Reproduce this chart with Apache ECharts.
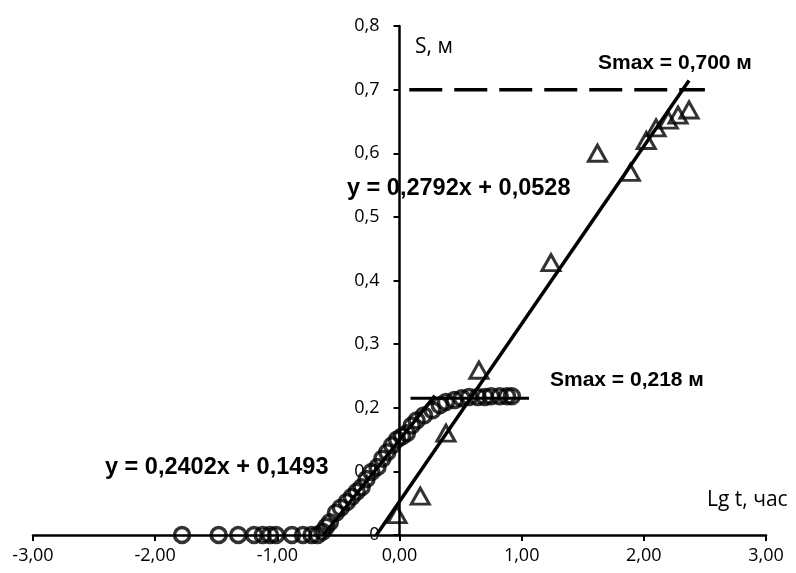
<!DOCTYPE html>
<html>
<head>
<meta charset="utf-8">
<script src="https://cdn.jsdelivr.net/npm/echarts@6/dist/echarts.min.js"></script>
<style>
  html, body { margin: 0; padding: 0; background: #fff; }
  #chart { width: 796px; height: 573px; }
</style>
</head>
<body>
<div id="chart"></div>
<script>
// circles: first test (lg t, S)
const circleX = [-1.78, -1.48, -1.32, -1.19, -1.12, -1.06, -1.01, -0.88, -0.79, -0.72, -0.67,
  -0.63, -0.60, -0.57, -0.52, -0.48, -0.43, -0.39, -0.35, -0.31, -0.27, -0.23, -0.18,
  -0.14, -0.10, -0.06, -0.02, 0.02, 0.06, 0.10, 0.14, 0.20, 0.27, 0.33, 0.38, 0.45,
  0.51, 0.57, 0.64, 0.70, 0.75, 0.82, 0.88, 0.92];
const circleY = [0, 0, 0, 0, 0, 0, 0, 0, 0, 0, 0,
  0.005, 0.013, 0.020, 0.035, 0.043, 0.052, 0.060, 0.068, 0.075, 0.088, 0.099, 0.107,
  0.120, 0.130, 0.141, 0.150, 0.155, 0.160, 0.172, 0.180, 0.188, 0.196, 0.204, 0.209, 0.212,
  0.215, 0.217, 0.217, 0.217, 0.218, 0.218, 0.218, 0.218];

// triangles: second test
const triX = [-0.02, 0.17, 0.38, 0.65, 1.24, 1.62, 1.89, 2.02, 2.10, 2.20, 2.28, 2.37];
const triY = [0.032, 0.061, 0.160, 0.259, 0.428, 0.600, 0.570, 0.620, 0.640, 0.652, 0.660, 0.668];

// linear trends y = k*x + b and their x ranges
const trendCircle = { k: 0.2402, b: 0.1493, from: -0.62, to: 0.29 };
const trendTri = { k: 0.2792, b: 0.0528, from: -0.19, to: 2.37 };

// Smax levels
const smaxHigh = { value: 0.700, from: 0.08, to: 2.50 };
const smaxLow = { value: 0.215, from: 0.09, to: 1.06 };

const xTicks = { min: -3, max: 3, step: 1 };
const yTicks = { min: 0, max: 0.8, step: 0.1 };

function pairs(xs, ys) {
  return xs.map(function (x, i) { return [x, ys[i]]; });
}
function trend(t) {
  return [[t.from, t.k * t.from + t.b], [t.to, t.k * t.to + t.b]];
}
function level(l) {
  return [[l.from, l.value], [l.to, l.value]];
}

const gridLeft = 33, gridRight = 30;
const plotW = 796 - gridLeft - gridRight;
// y axis crosses at x = 0
const yAxisShift = plotW * (0 - xTicks.min) / (xTicks.max - xTicks.min);

const labelFont = 'Open Sans';
const eqFont = 'bold 23.5px "Liberation Sans", Arial, sans-serif';
const smaxFont = 'bold 21px "Liberation Sans", Arial, sans-serif';
const nameFont = '21px "Open Sans", sans-serif';

const option = {
  animation: false,
  backgroundColor: '#fff',
  grid: { left: gridLeft, right: gridRight, top: 26, bottom: 38, containLabel: false, outerBoundsMode: 'none' },
  xAxis: {
    type: 'value',
    min: xTicks.min,
    max: xTicks.max,
    interval: xTicks.step,
    splitLine: { show: false },
    axisLine: { onZero: true, lineStyle: { color: '#000', width: 2.5 } },
    axisTick: { length: 6, lineStyle: { color: '#000', width: 2 } },
    axisLabel: {
      color: '#000',
      fontFamily: labelFont,
      fontSize: 18,
      margin: 12,
      formatter: function (v) { return v.toFixed(2).replace('.', ','); }
    }
  },
  yAxis: {
    type: 'value',
    position: 'left',
    offset: -yAxisShift,
    min: yTicks.min,
    max: yTicks.max,
    interval: yTicks.step,
    splitLine: { show: false },
    axisLine: { onZero: false, lineStyle: { color: '#000', width: 2.5 } },
    axisTick: { length: 6, lineStyle: { color: '#000', width: 2 } },
    axisLabel: {
      color: '#000',
      fontFamily: labelFont,
      fontSize: 18,
      margin: 20,
      formatter: function (v) { return v === 0 ? '0' : v.toFixed(1).replace('.', ','); }
    }
  },
  series: [
    {
      type: 'scatter',
      symbol: 'circle',
      symbolSize: 15,
      itemStyle: { color: 'rgba(255,255,255,0)', borderColor: '#000', borderWidth: 3.5 },
      data: pairs(circleX, circleY),
      z: 3
    },
    {
      type: 'line',
      data: trend(trendCircle),
      showSymbol: false,
      lineStyle: { color: '#000', width: 3.5 },
      z: 2
    },
    {
      type: 'scatter',
      symbol: 'triangle',
      symbolSize: [18, 16],
      itemStyle: { color: 'rgba(255,255,255,0)', borderColor: '#000', borderWidth: 3 },
      data: pairs(triX, triY),
      z: 3
    },
    {
      type: 'line',
      data: trend(trendTri),
      showSymbol: false,
      lineStyle: { color: '#000', width: 3.5 },
      z: 2
    },
    {
      type: 'line',
      data: level(smaxHigh),
      showSymbol: false,
      lineStyle: { color: '#000', width: 3.5, type: [33, 12] },
      z: 2
    },
    {
      type: 'line',
      data: level(smaxLow),
      showSymbol: false,
      lineStyle: { color: '#000', width: 3 },
      z: 2
    }
  ],
  graphic: [
    { type: 'text', x: 415, y: 47, z: 10,
      style: { text: 'S, м', font: nameFont, fill: '#000', verticalAlign: 'middle' } },
    { type: 'text', x: 707, y: 500, z: 10,
      style: { text: 'Lg t, час', font: nameFont, fill: '#000', verticalAlign: 'middle' } },
    { type: 'text', x: 598, y: 63, z: 10,
      style: { text: 'Smax = 0,700 м', font: smaxFont, fill: '#000', verticalAlign: 'middle' } },
    { type: 'text', x: 550, y: 380, z: 10,
      style: { text: 'Smax = 0,218 м', font: smaxFont, fill: '#000', verticalAlign: 'middle' } },
    { type: 'text', x: 347, y: 189, z: -1,
      style: { text: 'y = 0,2792x + 0,0528', font: eqFont, fill: '#000', verticalAlign: 'middle' } },
    { type: 'text', x: 105, y: 468, z: 10,
      style: { text: 'y = 0,2402x + 0,1493', font: eqFont, fill: '#000', verticalAlign: 'middle' } }
  ]
};

const chart = echarts.init(document.getElementById('chart'));
chart.setOption(option);
</script>
</body>
</html>
